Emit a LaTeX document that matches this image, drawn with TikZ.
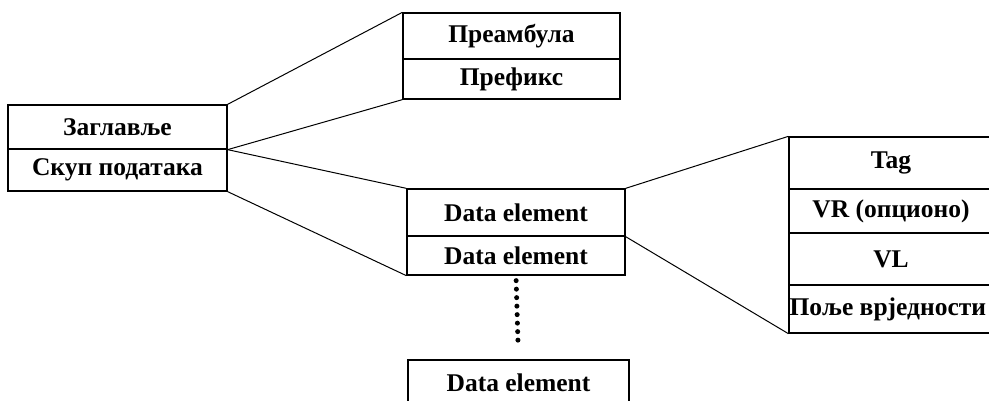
\documentclass[tikz,border=0pt]{standalone}
\usepackage{fontspec}
\setmainfont{Liberation Serif}
\usetikzlibrary{positioning}

\begin{document}
\begin{tikzpicture}[x=1pt,y=-1pt,
  row/.style={draw,line width=1.3pt,rectangle,inner sep=0pt,font=\fontsize{25.5}{30}\selectfont\bfseries},
  link/.style={line width=1pt}]
\useasboundingbox (0,0) rectangle (989,401);
% file: header and data set
\node[row,minimum width=219,minimum height=44] (zag) at (117.5,127) {Заглавље};
\node[row,minimum width=219,minimum height=42] (skup) at (117.5,170) {Скуп података};
% header parts
\node[row,minimum width=217,minimum height=46] (pre) at (511.5,36) {Преамбула};
\node[row,minimum width=217,minimum height=40] (pref) at (511.5,79) {Префикс};
% data set
\node[row,minimum width=218,minimum height=47] (de1) at (516,212.5) {Data element};
\node[row,minimum width=218,minimum height=39] (de2) at (516,255.5) {Data element};
\node[row,minimum width=221,minimum height=46] (de3) at (518.5,383) {Data element};
% data element parts
\node[row,minimum width=204,minimum height=52] (tag) at (891,163) {Tag};
\node[row,minimum width=204,minimum height=44] (vr) at (891,211) {VR (опционо)};
\node[row,minimum width=204,minimum height=52] (vl) at (891,259) {VL};
\node[row,minimum width=204,minimum height=48] (polje) at (891,309) {};
\node[font=\fontsize{25.5}{30}\selectfont\bfseries,inner sep=0pt,anchor=west] (poljetxt) at ([xshift=1pt]polje.west) {Поље врједности};

\draw[link] (zag.north east) -- (pre.north west);
\draw[link] (zag.south east) -- (pref.south west);
\draw[link] (zag.south east) -- (de1.north west);
\draw[link] (skup.south east) -- (de2.south west);
\draw[link] (de1.north east) -- (tag.north west);
\draw[link] (de1.south east) -- (polje.south west);
\draw[line width=5pt,line cap=round,dash pattern=on 0pt off 8.5pt,shorten <=5pt,shorten >=12pt] (de2.south) -- (de3.north);

\end{tikzpicture}
\end{document}
